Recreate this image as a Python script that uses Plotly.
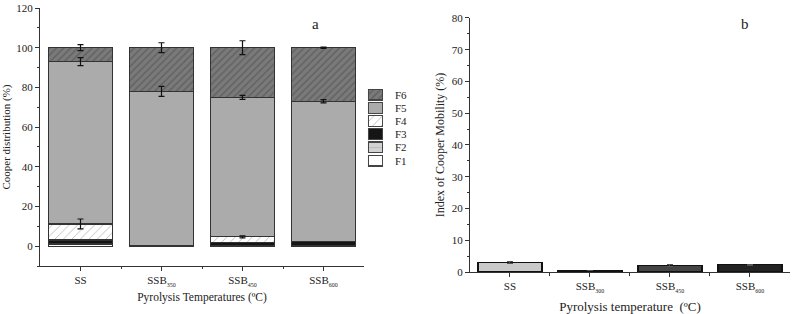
import plotly.graph_objects as go

# ---------------- data ----------------
SUB = "<sub><span style='font-size:6px'>{}</span></sub>"
cats_a = ["SS", "SSB" + SUB.format("350"), "SSB" + SUB.format("450"), "SSB" + SUB.format("600")]
cats_b = ["SS", "SSB" + SUB.format("300"), "SSB" + SUB.format("450"), "SSB" + SUB.format("600")]
xpos = [0, 1, 2, 3]

F1 = [0.8, 0.0, 0.3, 0.2]
F2 = [0.5, 0.1, 0.2, 0.2]
F3 = [1.8, 0.4, 1.5, 2.1]
F4 = [8.1, 0.0, 2.7, 0.0]
F5 = [81.8, 77.5, 70.3, 70.5]
F6 = [7.0, 22.0, 25.0, 27.0]

F4_err = [2.5, None, 0.5, None]
F5_err = [2.0, 2.5, 1.0, 0.8]
F6_err = [1.5, 2.5, 3.5, 0.3]

mobility = [3.0, 0.5, 2.0, 2.3]
mobility_err = [0.2, 0.1, 0.3, 0.2]

legend_names = ["F6", "F5", "F4", "F3", "F2", "F1"]

# ---------------- styles ----------------
FONT = "Liberation Serif"
styles = {
    "F1": dict(color="#ffffff"),
    "F2": dict(color="#cfcfcf",
               pattern=dict(shape="-", fgcolor="#9a9a9a", bgcolor="#d2d2d2", size=7, solidity=0.12)),
    "F3": dict(color="#151515"),
    "F4": dict(color="#ffffff",
               pattern=dict(shape="/", fgcolor="#777777", bgcolor="#ffffff", size=6, solidity=0.15)),
    "F5": dict(color="#ababab"),
    "F6": dict(color="#707070",
               pattern=dict(shape="/", fgcolor="#4a4a4a", bgcolor="#7a7a7a", size=5, solidity=0.3)),
}

fig = go.Figure()

series = [("F1", F1, None), ("F2", F2, None), ("F3", F3, None),
          ("F4", F4, F4_err), ("F5", F5, F5_err), ("F6", F6, F6_err)]
for name, vals, err in series:
    mk = dict(styles[name])
    mk["line"] = dict(color="#333333", width=1.2)
    fig.add_trace(go.Bar(x=xpos, y=vals, name=name, width=0.79, marker=mk, showlegend=False,
                         xaxis="x", yaxis="y"))

# error bars at the top of each stacked segment, drawn above all bars
cum = [0.0] * len(xpos)
for name, vals, err in series:
    cum = [c + v for c, v in zip(cum, vals)]
    if err is not None:
        ys = [c if e is not None else None for c, e in zip(cum, err)]
        es = [e if e is not None else 0 for e in err]
        fig.add_trace(go.Scatter(
            x=xpos, y=ys, mode="markers", marker=dict(size=1, opacity=0),
            error_y=dict(type="data", array=es, visible=True, color="#111111",
                         thickness=1.2, width=3),
            showlegend=False, hoverinfo="skip", xaxis="x", yaxis="y"))

# legend swatches drawn as bars on a small hidden axis
for i, name in enumerate(legend_names):
    mk = dict(styles[name])
    mk["line"] = dict(color="#444444", width=1.2)
    fig.add_trace(go.Bar(x=[1], y=[i], orientation="h", width=0.82, marker=mk,
                         showlegend=False, hoverinfo="skip", xaxis="x3", yaxis="y3"))

fig.add_trace(go.Bar(
    x=xpos, y=mobility, width=0.8, showlegend=False,
    marker=dict(color=["#c9c9c9", "#3a3a3a", "#454545", "#222222"],
                line=dict(color="#111111", width=1.2)),
    error_y=dict(type="data", array=mobility_err, visible=True, color="#555555",
                 thickness=1, width=3),
    xaxis="x2", yaxis="y2"))

axis_common = dict(showline=True, linecolor="#333333", linewidth=1, ticks="outside",
                   ticklen=4, tickcolor="#333333", showgrid=False, zeroline=False,
                   tickfont=dict(family=FONT, size=11, color="#222222"))

annotations = [
    dict(text="a", x=2.9, y=112, xref="x", yref="y", showarrow=False,
         font=dict(family=FONT, size=15, color="#222222")),
    dict(text="b", x=2.94, y=78, xref="x2", yref="y2", showarrow=False,
         font=dict(family=FONT, size=15, color="#222222")),
]
for i, name in enumerate(legend_names):
    annotations.append(dict(text=name, x=0.4713, y=i, xref="paper", yref="y3",
                            xanchor="left", yanchor="middle", showarrow=False,
                            font=dict(family=FONT, size=11, color="#222222")))

fig.update_layout(
    barmode="stack",
    width=792, height=314,
    margin=dict(l=40, r=2, t=5, b=42),
    paper_bgcolor="white", plot_bgcolor="white",
    font=dict(family=FONT, color="#222222"),
    showlegend=False,
    xaxis=dict(domain=[0, 0.432], range=[-0.5, 3.5], tickvals=xpos, ticktext=cats_a,
               anchor="y", minor=dict(tickvals=[0.5, 1.5, 2.5], ticks="outside", ticklen=2,
                                      tickcolor="#333333"),
               title=dict(text="Pyrolysis Temperatures (ºC)", font=dict(family=FONT, size=11.5),
                          standoff=6),
               **axis_common),
    yaxis=dict(domain=[0.0225, 1], range=[-10, 120], tickvals=[0, 20, 40, 60, 80, 100, 120],
               anchor="x", minor=dict(dtick=10, ticks="outside", ticklen=2, tickcolor="#333333"),
               title=dict(text="Cooper distribution (%)", font=dict(family=FONT, size=11),
                          standoff=4),
               **axis_common),
    xaxis2=dict(domain=[0.5733, 1.0], range=[-0.5, 3.5], tickvals=xpos, ticktext=cats_b,
                anchor="y2", minor=dict(tickvals=[0.5, 1.5, 2.5], ticks="outside", ticklen=3,
                                        tickcolor="#333333"),
                title=dict(text="Pyrolysis temperature  (ºC)", font=dict(family=FONT, size=13),
                           standoff=9),
                **axis_common),
    yaxis2=dict(domain=[0, 0.9625], range=[0, 80], dtick=10, anchor="x2",
                minor=dict(dtick=5, ticks="outside", ticklen=2, tickcolor="#333333"),
                title=dict(text="Index of Cooper Mobility (%)", font=dict(family=FONT, size=12),
                           standoff=4),
                **axis_common),
    xaxis3=dict(domain=[0.4373, 0.4573], range=[0, 1], visible=False, anchor="y3",
                fixedrange=True),
    yaxis3=dict(domain=[0.397, 0.6966], range=[5.5, -0.5], visible=False, anchor="x3",
                fixedrange=True),
    annotations=annotations,
)

fig.write_html("out.html", config={"displayModeBar": False},
               post_script="document.body.style.margin='0px';")
